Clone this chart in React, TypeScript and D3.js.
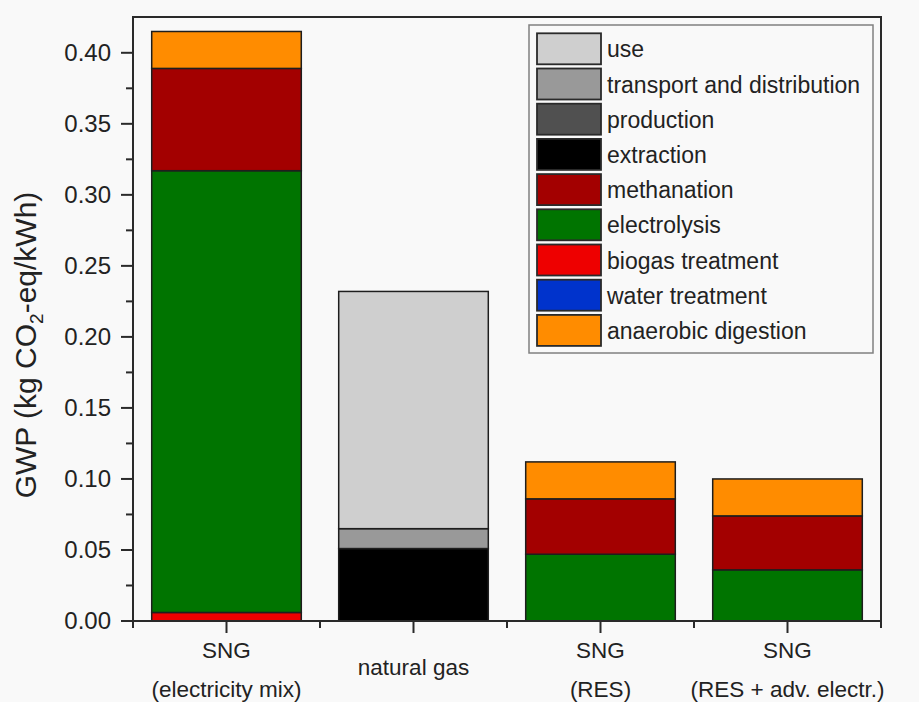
import React from "react";
import * as d3 from "d3";

// ---- data ----
const categoryLine1 = ["SNG", "natural gas", "SNG", "SNG"];
const categoryLine2 = ["(electricity mix)", "", "(RES)", "(RES + adv. electr.)"];
const categoryIds = ["c0", "c1", "c2", "c3"];

const waterTreatment = [0, 0, 0, 0];
const biogasTreatment = [0.006, 0, 0, 0];
const electrolysis = [0.311, 0, 0.047, 0.036];
const methanation = [0.072, 0, 0.039, 0.038];
const extraction = [0, 0.051, 0, 0];
const production = [0, 0, 0, 0];
const transportDistribution = [0, 0.014, 0, 0];
const useStage = [0, 0.167, 0, 0];
const anaerobicDigestion = [0.026, 0, 0.026, 0.026];

// stacking order (bottom -> top)
const stackKeys = [
  "water treatment",
  "biogas treatment",
  "electrolysis",
  "methanation",
  "extraction",
  "production",
  "transport and distribution",
  "use",
  "anaerobic digestion",
];
const seriesValues: Record<string, number[]> = {
  "water treatment": waterTreatment,
  "biogas treatment": biogasTreatment,
  electrolysis: electrolysis,
  methanation: methanation,
  extraction: extraction,
  production: production,
  "transport and distribution": transportDistribution,
  use: useStage,
  "anaerobic digestion": anaerobicDigestion,
};

// legend order (top -> bottom)
const legendKeys = [
  "use",
  "transport and distribution",
  "production",
  "extraction",
  "methanation",
  "electrolysis",
  "biogas treatment",
  "water treatment",
  "anaerobic digestion",
];
const colors: Record<string, string> = {
  use: "#cfcfcf",
  "transport and distribution": "#999999",
  production: "#505050",
  extraction: "#000000",
  methanation: "#a30000",
  electrolysis: "#007400",
  "biogas treatment": "#ee0000",
  "water treatment": "#0033cc",
  "anaerobic digestion": "#ff8c00",
};

const yMajorTicks = [0, 0.05, 0.1, 0.15, 0.2, 0.25, 0.3, 0.35, 0.4];
const yMinorTicks = [0.025, 0.075, 0.125, 0.175, 0.225, 0.275, 0.325, 0.375];

export default function App() {
  const W = 919;
  const H = 702;
  const left = 133;
  const right = 881;
  const top = 17;
  const bottom = 621;
  const font = "'Liberation Sans', Arial, Helvetica, sans-serif";

  const x = d3
    .scaleBand<string>()
    .domain(categoryIds)
    .range([left, right])
    .paddingInner(0.2)
    .paddingOuter(0.1);
  const step = x.step();
  const y = d3.scaleLinear().domain([0, 0.4252]).range([bottom, top]);

  const rows = categoryIds.map((id, i) => {
    const r: Record<string, any> = { id };
    stackKeys.forEach((k) => (r[k] = seriesValues[k][i]));
    return r;
  });
  const stacked = d3.stack<any>().keys(stackKeys)(rows);

  const axisColor = "#2a2a2a";
  const legendX = 529;
  const legendY = 25;
  const rowPitch = 35.2;

  return (
    <svg
      width={W}
      height={H}
      style={{ position: "absolute", left: 0, top: 0, background: "#f9f9f9" }}
      fontFamily={font}
    >
      <rect x={0} y={0} width={W} height={H} fill="#f9f9f9" />

      {/* bars */}
      {stacked.map((s) =>
        s.map((d, i) => {
          const h = y(d[0]) - y(d[1]);
          if (h <= 0.01) return null;
          return (
            <rect
              key={s.key + i}
              x={x(categoryIds[i])!}
              y={y(d[1])}
              width={x.bandwidth()}
              height={h}
              fill={colors[s.key]}
              stroke="#1e1e1e"
              strokeWidth={1.5}
            />
          );
        })
      )}

      {/* frame */}
      <rect
        x={left}
        y={top}
        width={right - left}
        height={bottom - top}
        fill="none"
        stroke={axisColor}
        strokeWidth={2}
      />

      {/* y ticks */}
      {yMajorTicks.map((t) => (
        <g key={"ym" + t}>
          <line x1={left - 12} x2={left} y1={y(t)} y2={y(t)} stroke={axisColor} strokeWidth={2} />
          <text
            x={left - 22}
            y={y(t)}
            dy="0.35em"
            textAnchor="end"
            fontSize={24}
            fill="#222"
          >
            {d3.format(".2f")(t)}
          </text>
        </g>
      ))}
      {yMinorTicks.map((t) => (
        <line key={"yn" + t} x1={left - 7} x2={left} y1={y(t)} y2={y(t)} stroke={axisColor} strokeWidth={2} />
      ))}

      {/* x ticks */}
      {categoryIds.map((id) => (
        <line
          key={"xm" + id}
          x1={x(id)! + x.bandwidth() / 2}
          x2={x(id)! + x.bandwidth() / 2}
          y1={bottom}
          y2={bottom + 12}
          stroke={axisColor}
          strokeWidth={2}
        />
      ))}
      {d3.range(categoryIds.length + 1).map((i) => (
        <line
          key={"xn" + i}
          x1={left + i * step}
          x2={left + i * step}
          y1={bottom}
          y2={bottom + 7}
          stroke={axisColor}
          strokeWidth={2}
        />
      ))}

      {/* x labels */}
      {categoryIds.map((id, i) => {
        const cx = x(id)! + x.bandwidth() / 2;
        if (!categoryLine2[i]) {
          return (
            <text key={"xl" + id} x={cx} y={675} textAnchor="middle" fontSize={22.5} fill="#222">
              {categoryLine1[i]}
            </text>
          );
        }
        return (
          <g key={"xl" + id}>
            <text x={cx} y={658} textAnchor="middle" fontSize={22.5} fill="#222">
              {categoryLine1[i]}
            </text>
            <text x={cx} y={697} textAnchor="middle" fontSize={22.5} fill="#222">
              {categoryLine2[i]}
            </text>
          </g>
        );
      })}

      {/* y title */}
      <text
        transform={`translate(36,345) rotate(-90)`}
        textAnchor="middle"
        fontSize={30}
        fill="#222"
      >
        GWP (kg CO
        <tspan fontSize={19} dy={7}>2</tspan>
        <tspan dy={-7}>-eq/kWh)</tspan>
      </text>

      {/* legend */}
      <rect
        x={legendX}
        y={legendY}
        width={344}
        height={328}
        fill="#f9f9f9"
        stroke="#808080"
        strokeWidth={1.5}
      />
      {legendKeys.map((k, i) => {
        const ry = 33.3 + i * rowPitch;
        return (
          <g key={"lg" + k}>
            <rect
              x={537}
              y={ry}
              width={64}
              height={31}
              fill={colors[k]}
              stroke="#2a2a2a"
              strokeWidth={1.8}
            />
            <text x={607} y={ry + 24} fontSize={23} fill="#222">
              {k}
            </text>
          </g>
        );
      })}
    </svg>
  );
}
